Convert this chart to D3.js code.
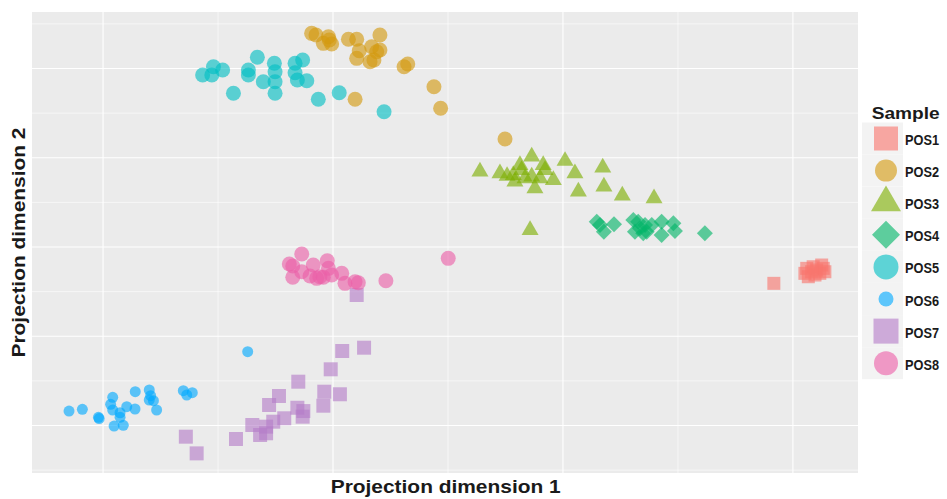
<!DOCTYPE html>
<html>
<head>
<meta charset="utf-8">
<script src="https://cdn.jsdelivr.net/npm/d3@7"></script>
<style>
  body { margin: 0; background: #fff; }
  text { font-family: "Liberation Sans", Arial, sans-serif; }
</style>
</head>
<body>
<svg></svg>
<script>
// sample names + colours (ggplot hue palette, POS7/POS8 toned down a bit)
const samples = ["POS1", "POS2", "POS3", "POS4", "POS5", "POS6", "POS7", "POS8"];
const sampleColors = ["#F8766D", "#D49A0E", "#7CAE00", "#00B467", "#00BFC4", "#00A9FF", "#B57DC8", "#EB5FA8"];

// projection coordinates [dim1, dim2] per sample
const pos1 = [[19.17, -4.07], [20.52, -2.95], [20.67, -3.33], [20.60, -2.39], [20.88, -2.21], [21.03, -2.58],
  [21.17, -2.95], [21.32, -2.39], [21.39, -2.77], [20.96, -3.14], [21.25, -2.02], [20.81, -2.77]];
const pos2 = [[-0.93, 23.94], [-0.74, 23.75], [-0.42, 22.82], [-0.20, 23.56], [-0.06, 22.75], [-0.16, 23.19],
  [0.67, 23.27], [1.03, 23.27], [1.03, 21.14], [1.14, 21.99], [1.68, 22.44], [2.04, 23.75], [1.90, 21.88],
  [2.04, 22.07], [1.61, 20.76], [1.78, 20.95], [3.09, 20.20], [3.25, 20.50], [4.39, 17.96], [4.68, 15.54],
  [0.96, 16.55], [7.48, 12.10]];
const pos3 = [[6.39, 8.44], [7.26, 8.26], [7.84, 8.07], [7.91, 7.32], [8.13, 9.19], [8.20, 8.63], [8.64, 10.12],
  [8.64, 7.88], [8.78, 6.58], [9.00, 7.70], [9.14, 9.19], [9.22, 8.63], [9.58, 7.51], [10.09, 9.64],
  [10.52, 8.26], [10.67, 6.20], [11.73, 8.89], [11.78, 6.76], [12.58, 5.75], [13.96, 5.46], [8.57, 1.90],
  [8.35, 7.70], [7.57, 7.96]];
const pos4 = [[11.47, 2.83], [11.61, 2.47], [11.78, 1.71], [12.22, 2.54], [13.06, 3.03], [13.27, 2.83],
  [13.35, 2.10], [13.57, 2.47], [13.64, 1.71], [13.86, 2.47], [14.29, 2.83], [14.29, 1.34], [14.80, 2.66],
  [14.87, 1.79], [16.17, 1.54], [13.13, 1.71], [13.49, 1.54]];
const pos5 = [[-5.67, 19.27], [-5.27, 19.27], [-5.20, 20.20], [-4.80, 19.83], [-4.33, 17.22], [-3.68, 19.83],
  [-3.68, 19.27], [-3.29, 21.26], [-3.03, 18.52], [-2.55, 20.58], [-2.52, 19.64], [-2.52, 18.52],
  [-2.52, 17.22], [-1.65, 20.58], [-1.65, 19.53], [-1.55, 18.71], [-1.32, 20.95], [-1.14, 18.63],
  [-0.64, 16.55], [0.27, 17.29], [2.22, 15.16]];
const pos6 = [[-11.48, -18.38], [-10.90, -18.18], [-10.20, -19.08], [-10.17, -19.22], [-9.58, -16.84],
  [-9.67, -17.62], [-9.58, -18.26], [-9.26, -18.57], [-9.26, -19.08], [-9.52, -20.06], [-9.12, -19.98],
  [-8.97, -17.89], [-8.61, -18.15], [-8.60, -16.21], [-7.99, -16.02], [-7.93, -16.66], [-7.99, -17.14],
  [-7.81, -17.22], [-7.67, -18.26], [-6.51, -16.10], [-6.36, -16.58], [-6.12, -16.32], [-3.71, -11.73]];
const pos7 = [[1.03, -5.38], [0.40, -11.65], [1.35, -11.28], [-0.10, -13.70], [-1.51, -15.09], [-2.35, -16.69],
  [-2.78, -17.70], [-0.38, -16.21], [0.30, -16.50], [-0.42, -17.78], [-1.55, -18.01], [-1.29, -18.38],
  [-1.32, -19.01], [-2.12, -19.19], [-2.60, -19.57], [-2.91, -20.13], [-3.51, -19.94], [-2.91, -20.87],
  [-3.17, -21.06], [-4.22, -21.51], [-6.40, -21.25], [-5.93, -23.12]];
const pos8 = [[-1.36, -0.78], [-1.90, -1.90], [-1.75, -2.13], [-1.75, -3.39], [-1.36, -2.77], [-0.86, -2.02],
  [-0.25, -1.54], [-0.20, -2.39], [-1.00, -3.25], [-0.71, -3.51], [-0.57, -3.33], [-0.42, -3.39],
  [-0.06, -3.14], [0.38, -2.95], [0.52, -4.07], [0.96, -3.89], [1.10, -4.00], [2.30, -3.78], [5.01, -1.27]];

const xMajor = [-10, 0, 10, 20];
const xMinor = [-5, 5, 15];
const yMajor = [-20, -10, 0, 10, 20];
const yMinor = [-25, -15, -5, 5, 15, 25];

const width = 947;
const height = 499;
const panel = { left: 32, top: 12, right: 858, bottom: 473 };

// point shapes: [d3 symbol type, area in plot, area in legend, rotate]
const shapes = {
  POS1: [d3.symbolSquare, 13 * 13, 24 * 24, 0],
  POS2: [d3.symbolCircle, Math.PI * 7.5 * 7.5, Math.PI * 11 * 11, 0],
  POS3: [d3.symbolTriangle, Math.sqrt(3) / 4 * 17 * 17, Math.sqrt(3) / 4 * 30 * 30, 0],
  POS4: [d3.symbolSquare, 2 * 8 * 8, 2 * 14 * 14, 45],
  POS5: [d3.symbolCircle, Math.PI * 7.5 * 7.5, Math.PI * 12.5 * 12.5, 0],
  POS6: [d3.symbolCircle, Math.PI * 5.5 * 5.5, Math.PI * 7.5 * 7.5, 0],
  POS7: [d3.symbolSquare, 14 * 14, 25 * 25, 0],
  POS8: [d3.symbolCircle, Math.PI * 7.5 * 7.5, Math.PI * 12 * 12, 0],
};

const dataset = [pos1, pos2, pos3, pos4, pos5, pos6, pos7, pos8];
const color = d3.scaleOrdinal().domain(samples).range(sampleColors);

const svg = d3.select("svg").attr("width", width).attr("height", height);
svg.append("rect").attr("width", width).attr("height", height).attr("fill", "#fff");

const x = d3.scaleLinear().domain([-13.09, 22.83]).range([panel.left, panel.right]);
const y = d3.scaleLinear().domain([-25.32, 26.33]).range([panel.bottom, panel.top]);

// panel background
svg.append("rect")
  .attr("x", panel.left).attr("y", panel.top)
  .attr("width", panel.right - panel.left).attr("height", panel.bottom - panel.top)
  .attr("fill", "#EBEBEB");

// grid lines
const grid = svg.append("g").attr("stroke", "#fff");
grid.selectAll(".vminor").data(xMinor).enter().append("line")
  .attr("x1", (d) => x(d)).attr("x2", (d) => x(d))
  .attr("y1", panel.top).attr("y2", panel.bottom).attr("stroke-width", 0.6);
grid.selectAll(".hminor").data(yMinor).enter().append("line")
  .attr("y1", (d) => y(d)).attr("y2", (d) => y(d))
  .attr("x1", panel.left).attr("x2", panel.right).attr("stroke-width", 0.6);
grid.selectAll(".vmajor").data(xMajor).enter().append("line")
  .attr("x1", (d) => x(d)).attr("x2", (d) => x(d))
  .attr("y1", panel.top).attr("y2", panel.bottom).attr("stroke-width", 1.1);
grid.selectAll(".hmajor").data(yMajor).enter().append("line")
  .attr("y1", (d) => y(d)).attr("y2", (d) => y(d))
  .attr("x1", panel.left).attr("x2", panel.right).attr("stroke-width", 1.1);

// points
const points = svg.append("g");
samples.forEach((s, i) => {
  const sh = shapes[s];
  const sym = d3.symbol().type(sh[0]).size(sh[1]);
  points.append("g").selectAll("path")
    .data(dataset[i]).enter().append("path")
    .attr("d", sym)
    .attr("transform", (d) => "translate(" + x(d[0]) + "," + y(d[1]) + ") rotate(" + sh[3] + ")")
    .attr("fill", color(s))
    .attr("fill-opacity", 0.62);
});

// axis titles
svg.append("text")
  .attr("x", 445.7).attr("y", 493.3)
  .attr("text-anchor", "middle")
  .attr("font-size", 18.5).attr("font-weight", "bold").attr("fill", "#1a1a1a")
  .attr("textLength", 230).attr("lengthAdjust", "spacingAndGlyphs")
  .text("Projection dimension 1");

svg.append("text")
  .attr("transform", "translate(25," + (panel.top + panel.bottom) / 2 + ") rotate(-90)")
  .attr("text-anchor", "middle")
  .attr("font-size", 18.5).attr("font-weight", "bold").attr("fill", "#1a1a1a")
  .attr("textLength", 230).attr("lengthAdjust", "spacingAndGlyphs")
  .text("Projection dimension 2");

// legend
const legend = svg.append("g");
legend.append("text")
  .attr("x", 871.7).attr("y", 119.3)
  .attr("font-size", 17).attr("font-weight", "bold").attr("fill", "#1a1a1a")
  .attr("textLength", 68).attr("lengthAdjust", "spacingAndGlyphs")
  .text("Sample");

const keyY = d3.scalePoint().domain(samples).range([138.5, 363.2]);
samples.forEach((s) => {
  const cy = keyY(s);
  const sh = shapes[s];
  legend.append("rect")
    .attr("x", 862).attr("y", cy - 16).attr("width", 41).attr("height", 32)
    .attr("fill", "#F3F3F3");
  legend.append("path")
    .attr("d", d3.symbol().type(sh[0]).size(sh[2]))
    .attr("transform", "translate(886," + cy + ") rotate(" + sh[3] + ")")
    .attr("fill", color(s))
    .attr("fill-opacity", 0.62);
  legend.append("text")
    .attr("x", 905).attr("y", cy + 6.5)
    .attr("font-size", 14.5).attr("font-weight", "bold").attr("fill", "#1a1a1a")
    .attr("textLength", 34).attr("lengthAdjust", "spacingAndGlyphs")
    .text(s);
});
</script>
</body>
</html>
